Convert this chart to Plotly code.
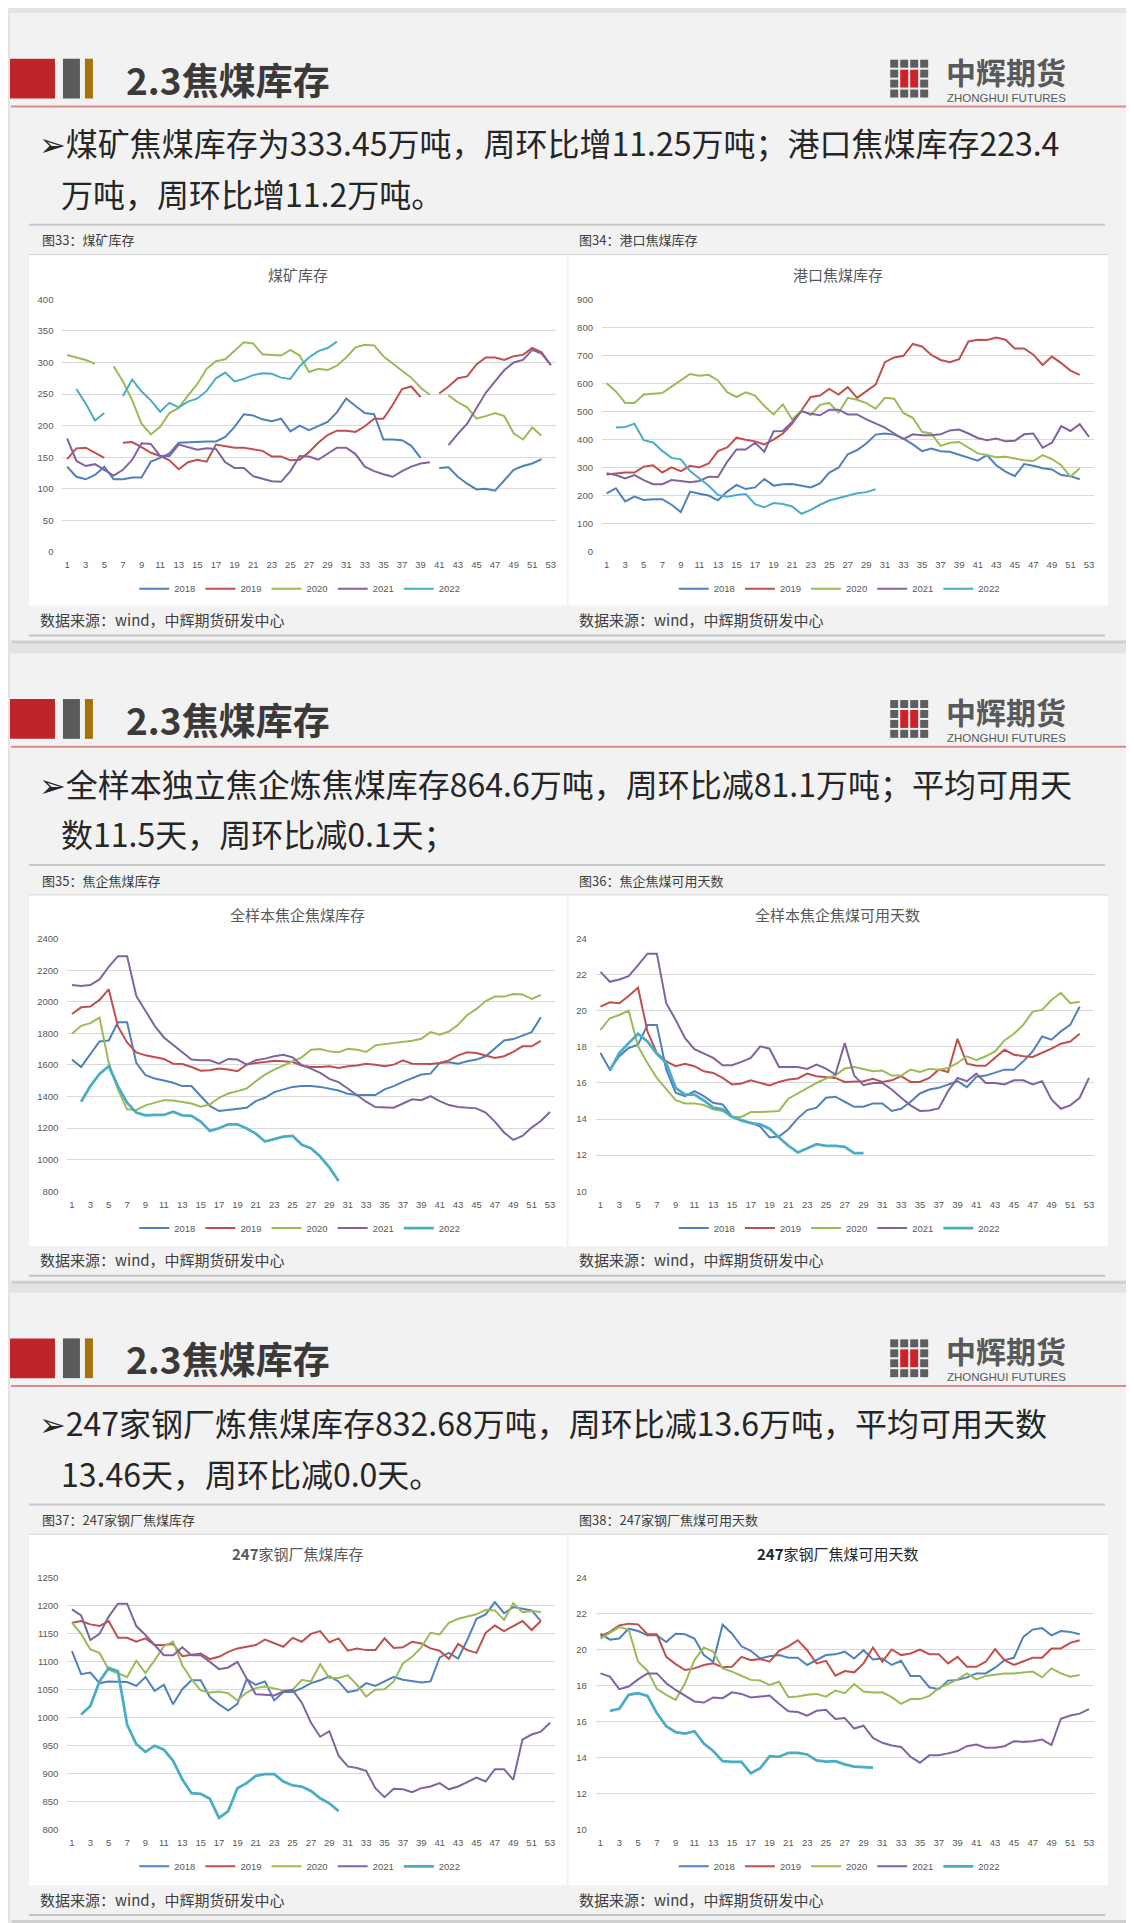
import plotly.graph_objects as go

W, H = 1134, 1923
N = None
weeks = list(range(1, 54))
years = ["2018", "2019", "2020", "2021", "2022"]
year_colors = ["#4f81bd", "#c0504d", "#9bbb59", "#8064a2", "#4bacc6"]

# ---------------- 图33 煤矿库存 ----------------
mine_2018 = [135,119,115,122,135,115,115,118,118,143, 149,156,173,174,175,175,175,182,198,218,
             216,210,207,211,191,200,193,200,206,221, 243,231,220,218,178,178,177,168,149,N,
             133,134,119,108,99,100,97,114,130,136, 140,147]
mine_2019 = [147,164,165,157,149,N,173,174,166,157, 152,145,131,142,146,143,170,167,165,165,
             163,160,151,151,145,146,158,173,185,192, 192,190,199,211,211,233,258,262,245,N,
             251,262,275,278,297,308,308,304,310,312, 323,316,296]
mine_2020 = [312,308,304,298,N,294,270,240,203,186, 198,220,228,248,266,290,302,305,318,332,
             330,313,312,311,320,311,285,290,288,295, 308,324,328,327,310,298,287,276,260,249,
             N,248,237,229,211,215,220,215,188,178, 197,184]
mine_2021 = [180,144,136,139,130,121,130,146,172,171, 152,152,170,166,162,164,163,142,133,133,
             120,116,112,111,128,152,151,146,155,165, 165,155,135,128,123,119,128,135,140,142,
             N,169,187,203,228,252,270,288,300,304, 320,314,296]
mine_2022 = [N,258,235,208,220,N,247,273,254,240, 222,236,229,238,243,255,275,284,270,274,
             280,283,282,276,274,294,308,318,323,333]

# ---------------- 图34 港口焦煤库存 ----------------
port_2018 = [209,227,180,197,185,188,188,168,142,215, 207,201,184,215,239,224,230,260,236,241,
             242,236,230,244,283,300,348,363,386,418, 422,418,404,383,359,368,359,357,347,335,
             325,345,309,286,270,313,307,298,294,274, 270,259]
port_2019 = [276,280,283,283,304,309,283,301,288,307, 301,315,359,372,407,400,394,383,400,422,
             457,504,552,557,581,561,587,549,572,596, 676,693,699,741,732,702,684,676,687,750,
             756,755,764,756,725,725,703,666,696,673, 646,631]
port_2020 = [601,572,531,531,561,563,566,589,611,634, 628,631,611,569,552,569,557,520,490,526,
             472,504,487,524,531,496,549,542,530,510, 549,546,495,478,428,422,378,389,392,371,
             351,345,337,339,333,327,324,345,331,309, 268,298]
port_2021 = [280,274,262,274,256,241,241,256,253,248, 253,268,267,321,365,365,389,357,430,431,
             463,501,492,487,507,507,490,490,472,457, 443,422,402,419,416,416,419,433,436,422,
             406,398,404,394,396,419,422,371,389,448, 431,455,410]
port_2022 = [N,443,445,457,398,390,360,335,330,288, 262,236,203,197,203,206,170,159,174,171,
             162,136,150,168,183,191,200,209,213,223]

# ---------------- 图35 全样本焦企焦煤库存 ----------------
coke_2018 = [1634,1587,1669,1749,1755,1871,1871,1613,1535,1514, 1501,1487,1466,1466,1403,1340,1308,1315,1319,1329,
             1371,1392,1428,1445,1461,1466,1466,1461,1451,1438, 1417,1409,1409,1409,1445,1466,1493,1518,1539,1545,
             1613,1617,1608,1623,1634,1655,1707,1755,1764,1785, 1808,1902]
coke_2019 = [1923,1965,1970,2012,2079,1844,1743,1680,1661,1650, 1638,1608,1606,1587,1564,1566,1577,1571,1560,1602,
             1613,1619,1627,1623,1619,1596,1587,1587,1592,1581, 1592,1596,1608,1602,1592,1602,1629,1608,1608,1606,
             1613,1629,1661,1680,1676,1659,1644,1655,1683,1718, 1718,1753]
coke_2020 = [1797,1848,1865,1900,1613,1445,1319,1315,1344,1361, 1377,1375,1365,1356,1335,1350,1392,1419,1434,1451,
             1497,1539,1571,1598,1623,1648,1697,1701,1686,1680, 1703,1697,1682,1724,1732,1739,1743,1753,1766,1808,
             1791,1812,1854,1917,1955,2005,2033,2033,2049,2047, 2018,2043]
coke_2021 = [2106,2100,2106,2142,2222,2289,2289,2037,1942,1848, 1774,1728,1686,1634,1630,1630,1608,1638,1634,1602,
             1630,1640,1655,1665,1648,1598,1577,1550,1512,1491, 1451,1407,1367,1333,1329,1329,1356,1382,1377,1403,
             1371,1346,1333,1329,1325,1298,1241,1172,1125,1150, 1203,1245,1302]
coke_2022 = [N,1367,1466,1543,1592,1466,1361,1298,1281,1283, 1283,1304,1281,1277,1241,1182,1199,1224,1224,1197,
             1165,1115,1130,1146,1151,1094,1073,1020,951,865]

# ---------------- 图36 全样本焦企焦煤可用天数 ----------------
cday_2018 = [17.66,16.74,17.48,17.94,18.12,19.22,19.22,16.74,15.46,15.27, 15.55,15.27,14.9,14.81,14.13,13.93,13.8,13.58,12.98,13.03,
             13.44,14.04,14.5,14.63,15.18,15.24,14.96,14.68,14.68,14.87, 14.87,14.45,14.57,14.96,15.42,15.64,15.73,15.92,16.1,15.77,
             16.34,16.41,16.56,16.74,16.74,17.2,17.75,18.58,18.4,18.86, 19.22,20.23]
cday_2019 = [20.23,20.47,20.42,20.82,21.28,18.86,17.66,17.2,16.93,17.07, 16.93,16.65,16.56,16.28,15.92,15.97,16.15,16.0,15.86,16.06,
             16.19,16.25,16.52,16.38,16.34,16.28,16.06,16.06,16.1,16.23, 16.06,16.15,16.38,16.06,16.06,16.28,16.74,16.61,18.45,17.07,
             16.96,16.96,17.39,17.84,17.57,17.48,17.44,17.66,17.9,18.18, 18.3,18.73]
cday_2020 = [18.95,19.59,19.77,20.01,18.03,17.11,16.28,15.64,15.05,14.87, 14.87,14.78,14.54,14.45,14.12,14.12,14.39,14.39,14.41,14.45,
             15.13,15.42,15.73,16.0,16.25,16.43,16.8,16.89,16.78,16.65, 16.69,16.41,16.41,16.74,16.61,16.78,16.74,16.83,17.11,17.48,
             17.26,17.48,17.75,18.36,18.73,19.22,19.96,20.05,20.6,21.0, 20.42,20.51]
cday_2021 = [22.16,21.61,21.74,21.92,22.53,23.17,23.17,20.42,19.5,18.49, 17.88,17.62,17.39,16.98,16.98,17.17,17.39,18.03,17.9,16.89,
             16.89,16.89,16.78,17.02,16.8,16.47,18.21,16.41,15.88,16.0, 16.0,15.64,15.18,14.76,14.45,14.48,14.59,15.55,16.28,16.1,
             16.52,16.0,16.0,15.92,16.15,16.15,15.92,16.1,15.09,14.57, 14.76,15.18,16.28]
cday_2022 = [N,16.69,17.66,18.21,18.73,18.3,17.62,17.11,15.73,15.36, 15.36,15.03,14.63,14.54,14.12,13.93,13.77,13.71,13.47,12.98,
             12.52,12.15,12.37,12.61,12.52,12.52,12.46,12.11,12.11]

# ---------------- 图37 247家钢厂焦煤库存 ----------------
steel_2018 = [1119,1078,1081,1062,1065,1065,1064,1057,1073,1048, 1059,1024,1051,1067,1067,1037,1024,1013,1025,1069,
              1059,1065,1031,1046,1046,1053,1062,1067,1074,1065, 1046,1049,1062,1057,1065,1073,1068,1065,1063,1065,
              1108,1116,1106,1139,1177,1185,1207,1187,1198,1195, 1192,1173]
steel_2019 = [1170,1173,1167,1164,1173,1143,1143,1136,1142,1130, 1130,1132,1110,1112,1115,1105,1109,1118,1124,1127,
              1130,1140,1133,1127,1143,1136,1150,1155,1135,1142, 1120,1124,1121,1121,1142,1125,1126,1136,1133,1124,
              1120,1105,1132,1121,1116,1152,1165,1155,1164,1173, 1157,1173]
steel_2020 = [1170,1150,1122,1116,1086,1080,1073,1102,1080,1103, 1128,1136,1094,1069,1049,1045,1047,1044,1031,1045,
              1053,1056,1053,1049,1050,1068,1065,1096,1071,1071, 1076,1059,1038,1050,1051,1065,1097,1109,1126,1152,
              1149,1170,1177,1181,1185,1193,1192,1175,1205,1189, 1191,1189]
steel_2021 = [1194,1183,1139,1150,1181,1204,1204,1164,1148,1129, 1112,1112,1126,1112,1112,1100,1087,1090,1100,1070,
              1042,1041,1040,1047,1050,1027,991,966,976,932, 913,910,905,874,858,873,872,867,874,877,
              883,872,877,885,893,886,908,908,889,961, 970,975,991]
steel_2022 = [N,1006,1021,1065,1089,1083,988,953,939,950, 943,923,890,865,864,855,821,833,874,883,
              896,899,899,886,879,877,869,856,847,833]

# ---------------- 图38 247家钢厂焦煤可用天数 ----------------
sday_2018 = [20.9,20.57,20.63,21.18,21.05,20.81,20.81,20.44,20.9,20.87, 20.63,19.71,19.34,21.4,20.9,20.2,19.95,19.52,19.65,19.71,
             19.56,19.56,19.16,19.43,19.71,19.75,19.9,19.52,19.98,19.47, 19.52,19.16,19.39,18.55,18.55,17.92,17.81,18.29,18.33,18.47,
             18.69,18.69,19.01,19.43,19.56,20.72,21.13,21.22,20.81,21.05, 21.0,20.87]
sday_2019 = [20.76,21.0,21.36,21.46,21.42,20.87,20.87,19.61,19.21,18.88, 18.97,19.16,19.25,19.03,19.06,19.61,19.43,19.49,19.34,19.95,
             20.2,20.54,19.98,19.25,19.39,18.56,18.82,18.75,19.25,20.13, 19.34,20.02,19.71,19.8,20.02,19.76,19.76,19.25,19.61,19.06,
             19.06,19.34,20.04,19.43,19.16,19.34,19.56,19.56,20.08,20.08, 20.39,20.54]
sday_2020 = [20.63,20.94,21.27,21.13,19.34,18.84,17.83,17.5,17.22,18.14, 19.43,20.13,19.9,18.97,18.79,18.56,18.33,18.29,18.05,18.23,
             17.37,17.4,17.5,17.55,17.4,17.74,17.59,18.1,17.68,17.63, 17.64,17.37,17.0,17.26,17.26,17.44,17.87,18.1,18.36,18.69,
             18.36,18.55,18.64,18.69,18.69,18.75,18.79,18.47,18.97,18.69, 18.51,18.6]
sday_2021 = [18.69,18.51,17.81,17.96,18.36,18.69,18.69,18.14,17.77,17.44, 17.13,17.07,17.35,17.31,17.64,17.55,17.35,17.4,17.46,17.0,
             16.58,16.54,16.34,16.61,16.67,16.15,16.21,15.62,15.78,15.1, 14.83,14.68,14.6,14.05,13.72,14.13,14.14,14.24,14.37,14.64,
             14.73,14.55,14.55,14.64,14.92,14.88,14.92,15.01,14.7,16.17, 16.35,16.45,16.7]
sday_2022 = [N,16.61,16.72,17.5,17.59,17.44,16.48,15.75,15.42,15.34, 15.47,14.79,14.37,13.81,13.76,13.76,13.13,13.41,14.09,14.05,
             14.27,14.27,14.18,13.85,13.78,13.81,13.63,13.5,13.48,13.44]

# ---------------- texts ----------------
header_title = "2.3焦煤库存"
bullets = [
    ("➢煤矿焦煤库存为333.45万吨，周环比增11.25万吨；港口焦煤库存223.4", "万吨，周环比增11.2万吨。"),
    ("➢全样本独立焦企炼焦煤库存864.6万吨，周环比减81.1万吨；平均可用天", "数11.5天，周环比减0.1天；"),
    ("➢247家钢厂炼焦煤库存832.68万吨，周环比减13.6万吨，平均可用天数", "13.46天，周环比减0.0天。"),
]
fig_labels = [("图33：煤矿库存", "图34：港口焦煤库存"),
              ("图35：焦企焦煤库存", "图36：焦企焦煤可用天数"),
              ("图37：247家钢厂焦煤库存", "图38：247家钢厂焦煤可用天数")]
source_text = "数据来源：wind，中辉期货研发中心"

CJK = "Noto Sans CJK SC, DejaVu Sans, sans-serif"
LAT = "Liberation Sans, Arial, sans-serif"

# the page body adds an 8px margin around the figure; compensate for it
SHIFT = 8

def fx(x):
    return (x - SHIFT) / W

def fy(y):
    return 1 - (y - SHIFT) / H

def pad(v):
    return list(v) + [None] * (53 - len(v))

shapes = []
annotations = []

def rect(x0, y0, x1, y1, fill, layer="below"):
    shapes.append(dict(type="rect", xref="paper", yref="paper",
                       x0=fx(x0), x1=fx(x1), y0=fy(y1), y1=fy(y0),
                       fillcolor=fill, line=dict(width=0), layer=layer))

def hline(x0, x1, y, color, width):
    shapes.append(dict(type="line", xref="paper", yref="paper",
                       x0=fx(x0), x1=fx(x1), y0=fy(y), y1=fy(y),
                       line=dict(color=color, width=width), layer="below"))

def text(x, y, s, size, color, anchor="left", family=CJK):
    annotations.append(dict(xref="paper", yref="paper", x=fx(x), y=fy(y), text=s,
                            showarrow=False, xanchor=anchor, yanchor="middle",
                            font=dict(size=size, color=color, family=family)))

offsets = [0, 644, 1287]
for si, o in enumerate(offsets):
    top = 7 + o
    bot = min(638 + o, H + 12)
    rect(12, top + 2, 1130, bot + 3, "#cfcfcf")
    rect(10, top, 1128, bot, "#f2f2f2")
    # header blocks
    rect(10, 53 + o, 55, 93 + o, "#c0242b")
    rect(63, 53 + o, 80, 93 + o, "#5a5a5a")
    rect(85, 53 + o, 93, 93 + o, "#a8700a")
    text(124, 73 + o, "<b>" + header_title + "</b>", 37, "#3a3a3a")
    # logo icon
    for r in range(4):
        for c in range(4):
            if r in (1, 2) and c in (1, 2):
                continue
            rect(891 + c * 10, 54 + o + r * 10, 899 + c * 10, 62 + o + r * 10, "#5e5e5e")
    rect(901, 64 + o, 909, 82 + o, "#d0202a")
    rect(911, 64 + o, 919, 82 + o, "#d0202a")
    text(1007, 65 + o, "<b>中辉期货</b>", 30, "#595959", anchor="center")
    text(1007, 92 + o, "ZHONGHUI FUTURES", 11.5, "#595959", anchor="center", family=LAT)
    hline(11, 1128, 101 + o, "#d98c8c", 2)
    # bullet text
    text(37, 137 + o, bullets[si][0], 32, "#262626")
    text(59, 188 + o, bullets[si][1], 32, "#262626")
    hline(29, 1106, 220 + o, "#c8c8c8", 2)
    text(40, 235 + o, fig_labels[si][0], 13, "#404040")
    text(578, 235 + o, fig_labels[si][1], 13, "#404040")
    # white chart boxes
    rect(29, 250 + o, 567, 603 + o, "#ffffff")
    rect(569, 250 + o, 1109, 603 + o, "#ffffff")
    hline(29, 1109, 250 + o, "#d4d4d4", 1)
    text(38, 617 + o, source_text, 15, "#404040")
    text(578, 617 + o, source_text, 15, "#404040")
    hline(29, 1106, 633 + o, "#c4c4c4", 2)

charts = [
    dict(title="煤矿库存", data=[mine_2018, mine_2019, mine_2020, mine_2021, mine_2022],
         yr=[0, 400], dt=50, px=(62.5, 556), py=(295, 549), tx=298, ty=270, ly=586, lx=300, w22=2.0, tc="#595959"),
    dict(title="港口焦煤库存", data=[port_2018, port_2019, port_2020, port_2021, port_2022],
         yr=[0, 900], dt=100, px=(602.5, 1094.6), py=(295, 549), tx=838.6, ty=270, ly=586, lx=840, w22=2.0, tc="#595959"),
    dict(title="全样本焦企焦煤库存", data=[coke_2018, coke_2019, coke_2020, coke_2021, coke_2022],
         yr=[800, 2400], dt=200, px=(67.4, 555.1), py=(938, 1192), tx=298, ty=914, ly=1229, lx=300, w22=2.75, tc="#595959"),
    dict(title="全样本焦企焦煤可用天数", data=[cday_2018, cday_2019, cday_2020, cday_2021, cday_2022],
         yr=[10, 24], dt=2, px=(596.3, 1094.7), py=(938, 1192), tx=838.6, ty=914, ly=1229, lx=840, w22=2.75, tc="#595959"),
    dict(title="<b>247</b>家钢厂焦煤库存", data=[steel_2018, steel_2019, steel_2020, steel_2021, steel_2022],
         yr=[800, 1250], dt=50, px=(67.4, 555.1), py=(1581, 1834), tx=298, ty=1556, ly=1871, lx=300, w22=2.75, tc="#595959"),
    dict(title="<b>247</b>家钢厂焦煤可用天数", data=[sday_2018, sday_2019, sday_2020, sday_2021, sday_2022],
         yr=[10, 24], dt=2, px=(596.3, 1094.7), py=(1581, 1834), tx=838.6, ty=1556, ly=1871, lx=840, w22=2.75, tc="#262626"),
]

fig = go.Figure()
layout = {}
for i, ch in enumerate(charts):
    k = i + 1
    xa = "x" if k == 1 else "x%d" % k
    ya = "y" if k == 1 else "y%d" % k
    lg = "legend" if k == 1 else "legend%d" % k
    for yi, (yr_name, col) in enumerate(zip(years, year_colors)):
        fig.add_trace(go.Scatter(
            x=weeks, y=pad(ch["data"][yi]), mode="lines", name=yr_name,
            line=dict(color=col, width=ch["w22"] if yi == 4 else 2.0),
            xaxis=xa, yaxis=ya, legend=lg, hoverinfo="skip"))
    layout["xaxis" if k == 1 else "xaxis%d" % k] = dict(
        domain=[fx(ch["px"][0]), fx(ch["px"][1])], anchor=ya,
        range=[0.5, 53.5], tick0=1, dtick=2, showgrid=False, zeroline=False,
        showline=False, ticks="", ticklabelstandoff=6,
        tickfont=dict(size=9.5, color="#595959", family=LAT), fixedrange=True)
    layout["yaxis" if k == 1 else "yaxis%d" % k] = dict(
        domain=[fy(ch["py"][1]), fy(ch["py"][0])], anchor=xa,
        range=ch["yr"], dtick=ch["dt"], tick0=ch["yr"][0], showgrid=True,
        gridcolor="#d9d9d9", gridwidth=1, zeroline=False, showline=False,
        ticks="", ticklabelstandoff=8,
        tickfont=dict(size=9.5, color="#595959", family=LAT), fixedrange=True)
    layout[lg] = dict(orientation="h", x=fx(ch["lx"]), y=fy(ch["ly"]),
                      xanchor="center", yanchor="middle", bgcolor="rgba(0,0,0,0)",
                      itemwidth=30, font=dict(size=9.5, color="#595959", family=LAT),
                      itemclick=False, itemdoubleclick=False)
    text(ch["tx"], ch["ty"], ch["title"], 15, ch["tc"], anchor="center")

fig.update_layout(
    width=W, height=H, margin=dict(l=0, r=0, t=0, b=0),
    paper_bgcolor="#e3e3e3", plot_bgcolor="rgba(0,0,0,0)",
    shapes=shapes, annotations=annotations, showlegend=True,
    **layout)

fig.write_html("out.html", config={"displayModeBar": False})
